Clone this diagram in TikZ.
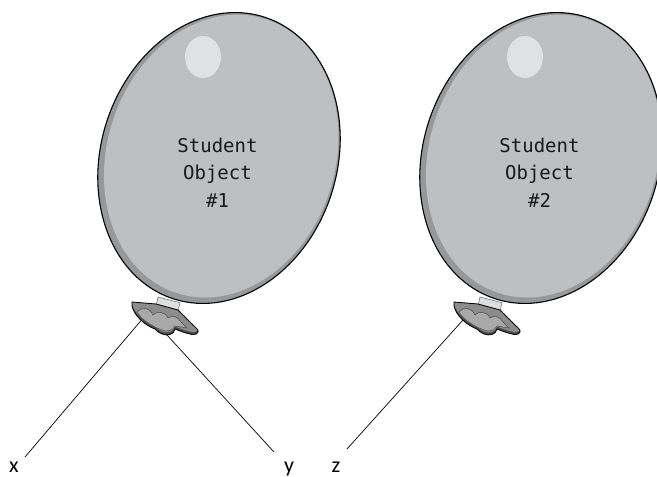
\documentclass[tikz,border=0pt]{standalone}
\usepackage{fontspec}
\setmonofont{DejaVu Sans Mono}
\newfontfamily\labelfont{Carlito}
\usepackage{tikz}
\usetikzlibrary{calc}
\usetikzlibrary{positioning}
\definecolor{skincolour}{HTML}{BEBFC1}
\definecolor{rimcolour}{HTML}{97989A}
\definecolor{shinecolour}{HTML}{E0E1E3}
\definecolor{knotcolour}{HTML}{8C8C8C}
\definecolor{knotdark}{HTML}{4A4A4A}
\definecolor{knotlight}{HTML}{A9A9A9}
\definecolor{neckcolour}{HTML}{DEDEDE}
\newcommand\linewd{.8pt}
\newcommand\rimwidth{1.1pt}
\newcommand\stringwidth{.7pt}
\tikzstyle{rim}     = [fill=rimcolour, draw=black, line width=\rimwidth]
\tikzstyle{skin}    = [fill=skincolour]
\tikzstyle{shine}   = [fill=shinecolour]
\tikzstyle{neck}    = [fill=neckcolour, draw=black!60, line width=.5pt]
\tikzstyle{knotline}= [draw=black, line width=\linewd, line join=round]
\tikzstyle{lobes}   = [fill=knotlight, draw=black!70, line width=.5pt]
\tikzstyle{string}  = [draw, line width=\stringwidth]
\tikzstyle{caption} = [font=\ttfamily\fontsize{19}{27.5}\selectfont, align=center, text=black!90, anchor=base, inner sep=0pt]
\tikzstyle{varname} = [font=\labelfont\fontsize{22}{22}\selectfont, anchor=base, inner sep=0pt]
\newcommand\knotpath{(-24,-2) -- (0,0) -- (22,6) -- (37,21)
  .. controls (40,24) and (43,26) .. (42,28) .. controls (41,31) and (36,31) .. (34,30)
  .. controls (29,29) and (24,27) .. (19,25) .. controls (18,31) and (11,32) .. (6,30)
  .. controls (3,29) and (1,27) .. (-1,25) .. controls (-10,22) and (-22,12) .. (-24,2) -- cycle}
% one balloon: #1 horizontal offset, #2 its number
\newcommand\balloon[2]{%
  \begin{scope}[xshift=#1]
    \begin{scope}[shift={(219,158)}, rotate=-18]
      \path[rim] (0,0) ellipse [x radius=118, y radius=148];
      \path[skin] (1.5,-2.5) ellipse [x radius=114, y radius=144];
    \end{scope}
    \path[shine] (203,57) ellipse [x radius=18, y radius=21];
    \draw (217.5,207) node[caption] (obj#2) {Student\\Object\\\##2};
    % neck and knot
    \begin{scope}[shift={(156,304)}]
      \path[neck] (2,-7) -- (24,-1.3) -- (22,7.3) -- (0.3,0.7) -- cycle;
      \fill[knotdark] \knotpath;
      \begin{scope}
        \clip \knotpath;
        \fill[knotcolour, yshift=2.5pt] \knotpath;
        \path[lobes] (-19,8) .. controls (-16,3) and (-6,3) .. (-3,11)
          .. controls (0,7) and (9,7) .. (12,14) .. controls (15,11) and (22,12) .. (25,18)
          -- (31,24) -- (19,22) .. controls (17,27) and (10,28) .. (6,26)
          .. controls (0,24) and (-14,17) .. cycle;
      \end{scope}
      \path[knotline] \knotpath;
    \end{scope}
  \end{scope}}
\begin{document}
\begin{tikzpicture}[x=1pt, y=-1pt]
    \useasboundingbox (0,0) rectangle (657,477);
    \coordinate (tie1l) at (150,310);
    \coordinate (tie1r) at (161.5,329);
    \coordinate (tie2) at (472,310);
    \coordinate (xend) at (25,457);
    \coordinate (yend) at (274,452);
    \coordinate (zend) at (347,449);
    \draw (14,472) node[varname] (x) {x};
    \draw (289,472) node[varname] (y) {y};
    \draw (336,472) node[varname] (z) {z};
    \draw[string] (tie1l) -- (xend);
    \draw[string] (tie1r) -- (yend);
    \draw[string] (tie2) -- (zend);
    \balloon{0}{1}
    \balloon{322}{2}
\end{tikzpicture}
\end{document}
